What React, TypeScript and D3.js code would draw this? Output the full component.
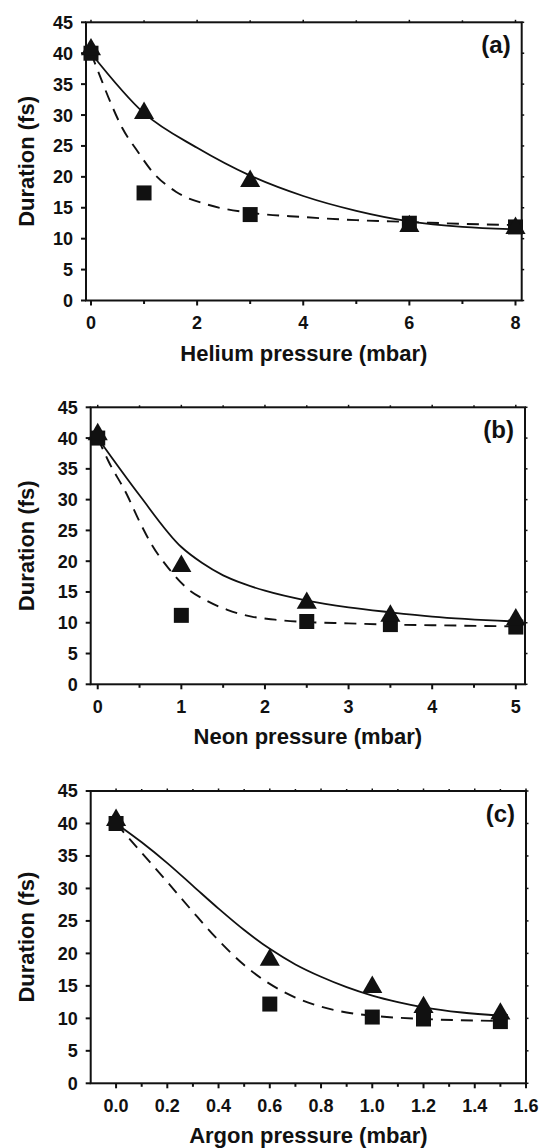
import React from 'react'
import * as d3 from 'd3'

// measured pressures (mbar) for each gas
const heliumX = [0, 1, 3, 6, 8]
const heliumTriangles = [40.6, 30.3, 19.3, 12.0, 11.7]
const heliumSquares = [40.0, 17.4, 13.9, 12.5, 11.9]
// fit curves, [pressure, duration]
const heliumSolid = [[0, 40], [1, 30.3], [2, 24.7], [3, 20.2], [4, 16.9], [5, 14.5], [6, 12.8], [7, 11.9], [8, 11.5]]
const heliumDashed = [[0, 40], [0.16, 36.5], [0.36, 32.2], [0.59, 27.9], [0.88, 24.1], [1.14, 21.0], [1.6, 17.6], [2.2, 15.5], [3, 14.2], [4, 13.5], [5, 13.0], [6, 12.7], [7, 12.4], [8, 12.2]]

const neonX = [0, 1, 2.5, 3.5, 5]
const neonTriangles = [40.6, 19.2, 13.2, 11.1, 10.5]
const neonSquares = [40.0, 11.2, 10.2, 9.7, 9.3]
const neonSolid = [[0, 40], [0.5, 30.7], [1, 22.3], [1.25, 19.7], [1.5, 17.7], [1.75, 16.3], [2, 15.2], [2.5, 13.6], [3, 12.5], [3.5, 11.7], [4, 11.0], [5, 10.2]]
const neonDashed = [[0, 40], [0.13, 36.2], [0.35, 30.8], [0.49, 26.7], [0.65, 22.6], [0.85, 18.8], [1.06, 15.7], [1.3, 13.6], [1.55, 12.1], [1.84, 11.0], [2.12, 10.5], [2.5, 10.1], [3, 9.9], [3.5, 9.7], [4, 9.6], [5, 9.4]]

const argonX = [0, 0.6, 1.0, 1.2, 1.5]
const argonTriangles = [40.5, 19.0, 14.8, 11.7, 10.7]
const argonSquares = [40.0, 12.2, 10.2, 9.9, 9.5]
const argonSolid = [[0, 40], [0.1, 37.1], [0.2, 33.9], [0.3, 30.4], [0.4, 26.9], [0.5, 23.6], [0.6, 20.7], [0.7, 18.3], [0.8, 16.4], [0.9, 14.8], [1.0, 13.5], [1.1, 12.5], [1.2, 11.7], [1.35, 10.9], [1.5, 10.4]]
const argonDashed = [[0, 40], [0.1, 35.5], [0.2, 31], [0.3, 26.4], [0.4, 22], [0.5, 18.2], [0.6, 15.3], [0.7, 13.2], [0.8, 11.8], [0.9, 10.9], [1.0, 10.4], [1.2, 9.9], [1.5, 9.6]]

const yTicks = [0, 5, 10, 15, 20, 25, 30, 35, 40, 45]
const heliumTicks = [0, 2, 4, 6, 8]
const heliumMinor = [1, 3, 5, 7]
const neonTicks = [0, 1, 2, 3, 4, 5]
const neonMinor = [0.5, 1.5, 2.5, 3.5, 4.5]
const argonTicks = [0, 0.2, 0.4, 0.6, 0.8, 1.0, 1.2, 1.4, 1.6]
const argonMinor = [0.1, 0.3, 0.5, 0.7, 0.9, 1.1, 1.3, 1.5]

const font = '"Liberation Sans", Arial, Helvetica, sans-serif'
const ink = '#111'

const Panel = ({ box, xDomain, ticks, minor, fmt, xs, tri, sq, solid, dashed, title, tag }) => {
    const x = d3.scaleLinear().domain(xDomain).range([box.left, box.right])
    const y = d3.scaleLinear().domain([0, 45]).range([box.bottom, box.top])

    const line = d3.line()
        .x(d => x(d[0]))
        .y(d => y(d[1]))
        .curve(d3.curveMonotoneX)

    const triangle = d3.symbol().type(d3.symbolTriangle).size(175)()
    const square = d3.symbol().type(d3.symbolSquare).size(225)()

    return (
        <g>
            <path d={line(solid)} fill="none" stroke={ink} strokeWidth={1.8} />
            <path d={line(dashed)} fill="none" stroke={ink} strokeWidth={1.9} strokeDasharray="12,8" />

            {xs.map((v, i) => (
                <path key={'s' + i} d={square} transform={`translate(${x(v)},${y(sq[i])})`} fill={ink} />
            ))}
            {xs.map((v, i) => (
                <path key={'t' + i} d={triangle} transform={`translate(${x(v)},${y(tri[i])})`} fill={ink} />
            ))}

            {/* frame */}
            <rect x={box.left} y={box.top} width={box.right - box.left} height={box.bottom - box.top}
                fill="none" stroke={ink} strokeWidth={2} />

            {/* y ticks, left and right */}
            {yTicks.map(t => (
                <g key={'y' + t}>
                    <line x1={box.left - 5} x2={box.left} y1={y(t)} y2={y(t)} stroke={ink} strokeWidth={2} />
                    <line x1={box.right} x2={box.right + 2.5} y1={y(t)} y2={y(t)} stroke={ink} strokeWidth={1.5} />
                    <text x={box.left - 13} y={y(t)} dy="0.36em" textAnchor="end"
                        fontFamily={font} fontWeight="bold" fontSize={18} fill={ink}>{t}</text>
                </g>
            ))}

            {/* x ticks */}
            {ticks.map(t => (
                <g key={'x' + t}>
                    <line x1={x(t)} x2={x(t)} y1={box.bottom} y2={box.bottom + 5} stroke={ink} strokeWidth={2} />
                    <line x1={x(t)} x2={x(t)} y1={box.top} y2={box.top - 2.5} stroke={ink} strokeWidth={1.5} />
                    <text x={x(t)} y={box.bottom + 28.5} textAnchor="middle"
                        fontFamily={font} fontWeight="bold" fontSize={18} fill={ink}>{fmt(t)}</text>
                </g>
            ))}
            {minor.map(t => (
                <g key={'m' + t}>
                    <line x1={x(t)} x2={x(t)} y1={box.bottom} y2={box.bottom + 3.5} stroke={ink} strokeWidth={2} />
                    <line x1={x(t)} x2={x(t)} y1={box.top} y2={box.top - 2} stroke={ink} strokeWidth={1.5} />
                </g>
            ))}

            <text x={box.right - 11} y={box.top + 31} textAnchor="end"
                fontFamily={font} fontWeight="bold" fontSize={24} fill={ink}>{tag}</text>

            <text x={(box.left + box.right) / 2} y={box.bottom + 60} textAnchor="middle"
                fontFamily={font} fontWeight="bold" fontSize={22} fill={ink}>{title}</text>

            <text textAnchor="middle"
                transform={`translate(34,${(box.top + box.bottom) / 2})rotate(-90)`}
                fontFamily={font} fontWeight="bold" fontSize={22} fill={ink}>Duration (fs)</text>
        </g>
    )
}

const App = () => {
    const intFmt = d3.format('d')
    const decFmt = d3.format('.1f')

    return (
        <svg width={541} height={1148} style={{ position: 'absolute', left: 0, top: 0, background: '#fff' }}>
            <Panel
                box={{ left: 86, right: 521.7, top: 22.3, bottom: 300.5 }}
                xDomain={[-0.094, 8.117]}
                ticks={heliumTicks} minor={heliumMinor} fmt={intFmt}
                xs={heliumX} tri={heliumTriangles} sq={heliumSquares}
                solid={heliumSolid} dashed={heliumDashed}
                title="Helium pressure (mbar)" tag="(a)" />
            <Panel
                box={{ left: 90.7, right: 525, top: 407.3, bottom: 684.3 }}
                xDomain={[-0.084, 5.11]}
                ticks={neonTicks} minor={neonMinor} fmt={intFmt}
                xs={neonX} tri={neonTriangles} sq={neonSquares}
                solid={neonSolid} dashed={neonDashed}
                title="Neon pressure (mbar)" tag="(b)" />
            <Panel
                box={{ left: 90.7, right: 526, top: 791, bottom: 1083.3 }}
                xDomain={[-0.099, 1.6]}
                ticks={argonTicks} minor={argonMinor} fmt={decFmt}
                xs={argonX} tri={argonTriangles} sq={argonSquares}
                solid={argonSolid} dashed={argonDashed}
                title="Argon pressure (mbar)" tag="(c)" />
        </svg>
    )
}

export default App
